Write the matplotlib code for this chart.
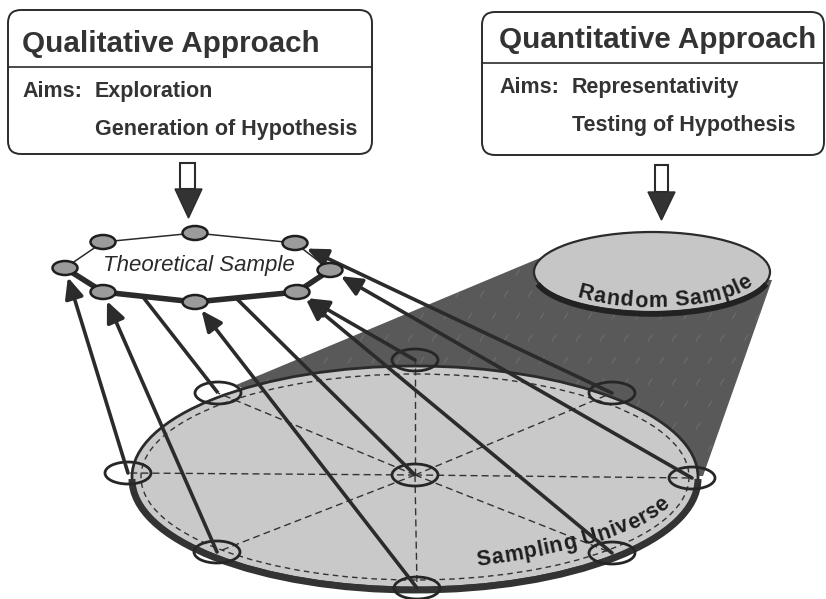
import numpy as np
import matplotlib
matplotlib.use("Agg")
import matplotlib.pyplot as plt
from matplotlib.patches import Ellipse, Arc, Polygon, FancyBboxPatch
from matplotlib.font_manager import FontProperties
from matplotlib.textpath import TextToPath

# --- content ---------------------------------------------------------------
left_title = "Qualitative Approach"
left_aims = ["Exploration", "Generation of Hypothesis"]
right_title = "Quantitative Approach"
right_aims = ["Representativity", "Testing of Hypothesis"]
sample_label = "Theoretical Sample"
random_label = "Random Sample"
universe_label = "Sampling Universe"

# theoretical sample dots (octagon, in drawing order round the ring)
dot_names = ["left", "top_left", "top", "top_right", "right", "bot_right", "bottom", "bot_left"]
dot_x = [65, 103, 195, 295, 330, 297, 195, 103]
dot_y = [268, 242, 233, 243, 270, 292, 302, 292]

# sampling universe points
pt_names = ["top", "up_right", "right", "low_right", "bottom", "low_left", "left", "up_left", "center"]
pt_x = [415, 612, 692, 612, 417, 217, 128, 218, 415]
pt_y = [360, 393, 478, 553, 588, 552, 473, 393, 475]

# which universe point feeds which sample dot (None = line stops on the ring edge)
links = [
    ("left", "left", None),
    ("low_left", "bot_left", None),
    ("up_left", None, (143, 297)),
    ("bottom", "bottom", None),
    ("center", None, (236, 298)),
    ("low_right", "bot_right", None),
    ("top", "bot_right", None),
    ("right", "right", None),
    ("up_right", "top_right", None),
]

INK = "#2b2b2b"
FONT = "Liberation Sans"

fig = plt.figure(figsize=(8.26, 5.99), dpi=100)
ax = fig.add_axes([0, 0, 1, 1])
ax.set_xlim(0, 826)
ax.set_ylim(599, 0)
ax.axis("off")

# --- header boxes ------------------------------------------------------------
def header_box(x0, x1, y0, y1, ydiv, title, tx, ty, aims, ax0, ay0, ay1):
    box = FancyBboxPatch((x0, y0), x1 - x0, y1 - y0,
                         boxstyle="round,pad=0,rounding_size=13",
                         fc="white", ec=INK, lw=1.4, zorder=2)
    ax.add_patch(box)
    ax.plot([x0, x1], [ydiv, ydiv], color=INK, lw=1.2, zorder=3)
    ax.text(tx, ty, title, fontsize=21.3, fontweight="bold", family=FONT,
            color="#333333", va="baseline", ha="left", zorder=4)
    kw = dict(fontsize=15.5, fontweight="bold", family=FONT, color="#333333",
              va="baseline", ha="left", zorder=4)
    ax.text(tx, ay0, "Aims:", **kw)
    ax.text(ax0, ay0, aims[0], **kw)
    ax.text(ax0, ay1, aims[1], **kw)

header_box(8, 372, 10, 154, 67, left_title, 22, 52, left_aims, 95, 97, 135)
header_box(482, 824, 12, 155, 63, right_title, 499, 48, right_aims, 572, 93, 131)

# hollow-shaft arrows under the boxes
def down_arrow(sx0, sx1, sy0, sy1, hx0, hx1, hy1):
    ax.add_patch(Polygon([(sx0, sy0), (sx1, sy0), (sx1, sy1), (sx0, sy1)],
                         closed=True, fc="white", ec=INK, lw=1.5, zorder=3))
    ax.add_patch(Polygon([(hx0, sy1), (hx1, sy1), ((hx0 + hx1) / 2, hy1)],
                         closed=True, fc="#333333", ec=INK, lw=1, zorder=3))

down_arrow(180, 195, 163, 189, 175, 202, 218)
down_arrow(655, 668, 165, 192, 648, 675, 220)

# --- cone between universe and random sample ---------------------------------
cone = Polygon([(236, 385), (540, 258), (652, 272), (772, 280), (703, 476), (415, 477)],
               closed=True, fc="#595959", ec="none", zorder=1)
ax.add_patch(cone)
for yy in np.arange(250, 480, 22):
    for xx in np.arange(240, 780, 24):
        off = 12 if int((yy - 250) / 22) % 2 else 0
        ln, = ax.plot([xx + off, xx + off + 4], [yy + 3, yy - 3], color="#6c6c6c",
                      lw=0.8, zorder=1.5)
        ln.set_clip_path(cone)

# random sample disc
rs_c, rs_a, rs_b = (652, 272), 118, 40
ax.add_patch(Ellipse(rs_c, 2 * rs_a, 2 * rs_b, fc="#c6c6c6", ec=INK, lw=1.6, zorder=3))
ax.add_patch(Arc((rs_c[0], rs_c[1] + 2), 2 * rs_a, 2 * rs_b, theta1=5, theta2=175,
                 ec="#222222", lw=4, zorder=3.2))

# sampling universe disc
su_c, su_a, su_b = (415, 477), 283, 111
ax.add_patch(Ellipse(su_c, 2 * su_a, 2 * su_b, fc="#c9c9c9", ec=INK, lw=2, zorder=2))
ax.add_patch(Arc((su_c[0], su_c[1] + 2), 2 * su_a, 2 * su_b, theta1=0, theta2=180,
                 ec="#333333", lw=5, zorder=2.5))
ax.add_patch(Ellipse(su_c, 2 * su_a - 18, 2 * su_b - 16, fc="none", ec="#333333",
                     lw=1, ls=(0, (4, 3)), zorder=3))
cx, cy = pt_x[-1], pt_y[-1]
for x, y in zip(pt_x[:-1], pt_y[:-1]):
    ax.plot([cx, x], [cy, y], color="#333333", lw=1, ls=(0, (5, 3)), zorder=3)

for x, y in zip(pt_x, pt_y):
    ax.add_patch(Ellipse((x, y), 46, 22, fc="none", ec="#262626", lw=2, zorder=4))

# --- text along curves -------------------------------------------------------
ttp = TextToPath()

def curve_text(px, py, s, size):
    prop = FontProperties(family=FONT, weight="bold", size=size)
    seg = np.hypot(np.diff(px), np.diff(py))
    cum = np.concatenate([[0], np.cumsum(seg)])
    total = cum[-1]
    widths = np.array([ttp.get_text_width_height_descent(c, prop, ismath=False)[0]
                       for c in s])
    widths = widths / widths.sum() * total
    mids = np.cumsum(widths) - widths / 2
    for ch, m in zip(s, mids):
        x = np.interp(m, cum, px)
        y = np.interp(m, cum, py)
        x2, y2 = np.interp(m + 2, cum, px), np.interp(m + 2, cum, py)
        x1, y1 = np.interp(m - 2, cum, px), np.interp(m - 2, cum, py)
        ang = np.degrees(np.arctan2(-(y2 - y1), x2 - x1))
        ax.text(x, y, ch, fontproperties=prop, color="#1e1e1e", rotation=ang,
                rotation_mode="anchor", ha="center", va="baseline", zorder=4.5)

t = np.radians(np.linspace(135, 20, 300))
curve_text(rs_c[0] + 108 * np.cos(t), rs_c[1] + 35 * np.sin(t), random_label, 15.5)

u = np.linspace(0, 1, 300)
p0, p1, p2 = np.array([477, 566]), np.array([632, 544]), np.array([670, 505])
bez = ((1 - u) ** 2)[:, None] * p0 + (2 * u * (1 - u))[:, None] * p1 + (u ** 2)[:, None] * p2
curve_text(bez[:, 0], bez[:, 1], universe_label, 15.5)

# --- connecting lines --------------------------------------------------------
dots = dict(zip(dot_names, zip(dot_x, dot_y)))
pts = dict(zip(pt_names, zip(pt_x, pt_y)))
for src, dst, edge in links:
    x0, y0 = pts[src]
    if dst is None:
        ax.plot([x0, edge[0]], [y0, edge[1]], color=INK, lw=2.6,
                solid_capstyle="butt", zorder=5)
        continue
    x1, y1 = dots[dst]
    dx, dy = x0 - x1, y0 - y1
    n = np.hypot(dx, dy)
    ux, uy = dx / n, dy / n
    r = 1 / np.sqrt((ux / 12) ** 2 + (uy / 6.5) ** 2) + 3
    ax.annotate("", xy=(x1 + ux * r, y1 + uy * r), xytext=(x0, y0),
                arrowprops=dict(arrowstyle="-|>,head_length=0.9,head_width=0.4",
                                lw=2.6, color=INK, shrinkA=0, shrinkB=0,
                                mutation_scale=14), zorder=5)

# --- theoretical sample ring -------------------------------------------------
ring = list(zip(dot_x, dot_y))
for i in range(len(ring)):
    a, b = ring[i], ring[(i + 1) % len(ring)]
    thick = dot_names[i] in ("right", "bot_right", "bottom", "bot_left")
    ax.plot([a[0], b[0]], [a[1], b[1]], color=INK, lw=4 if thick else 1.1,
            solid_capstyle="round", zorder=6)
for x, y in ring:
    ax.add_patch(Ellipse((x, y), 25, 14, fc="#9b9b9b", ec="#1e1e1e", lw=1.8, zorder=7))

ax.text(199, 271, sample_label, fontsize=16, style="italic", family=FONT,
        color="#2a2a2a", ha="center", va="baseline", zorder=8)

fig.savefig("out.png", dpi=100, facecolor="white")
